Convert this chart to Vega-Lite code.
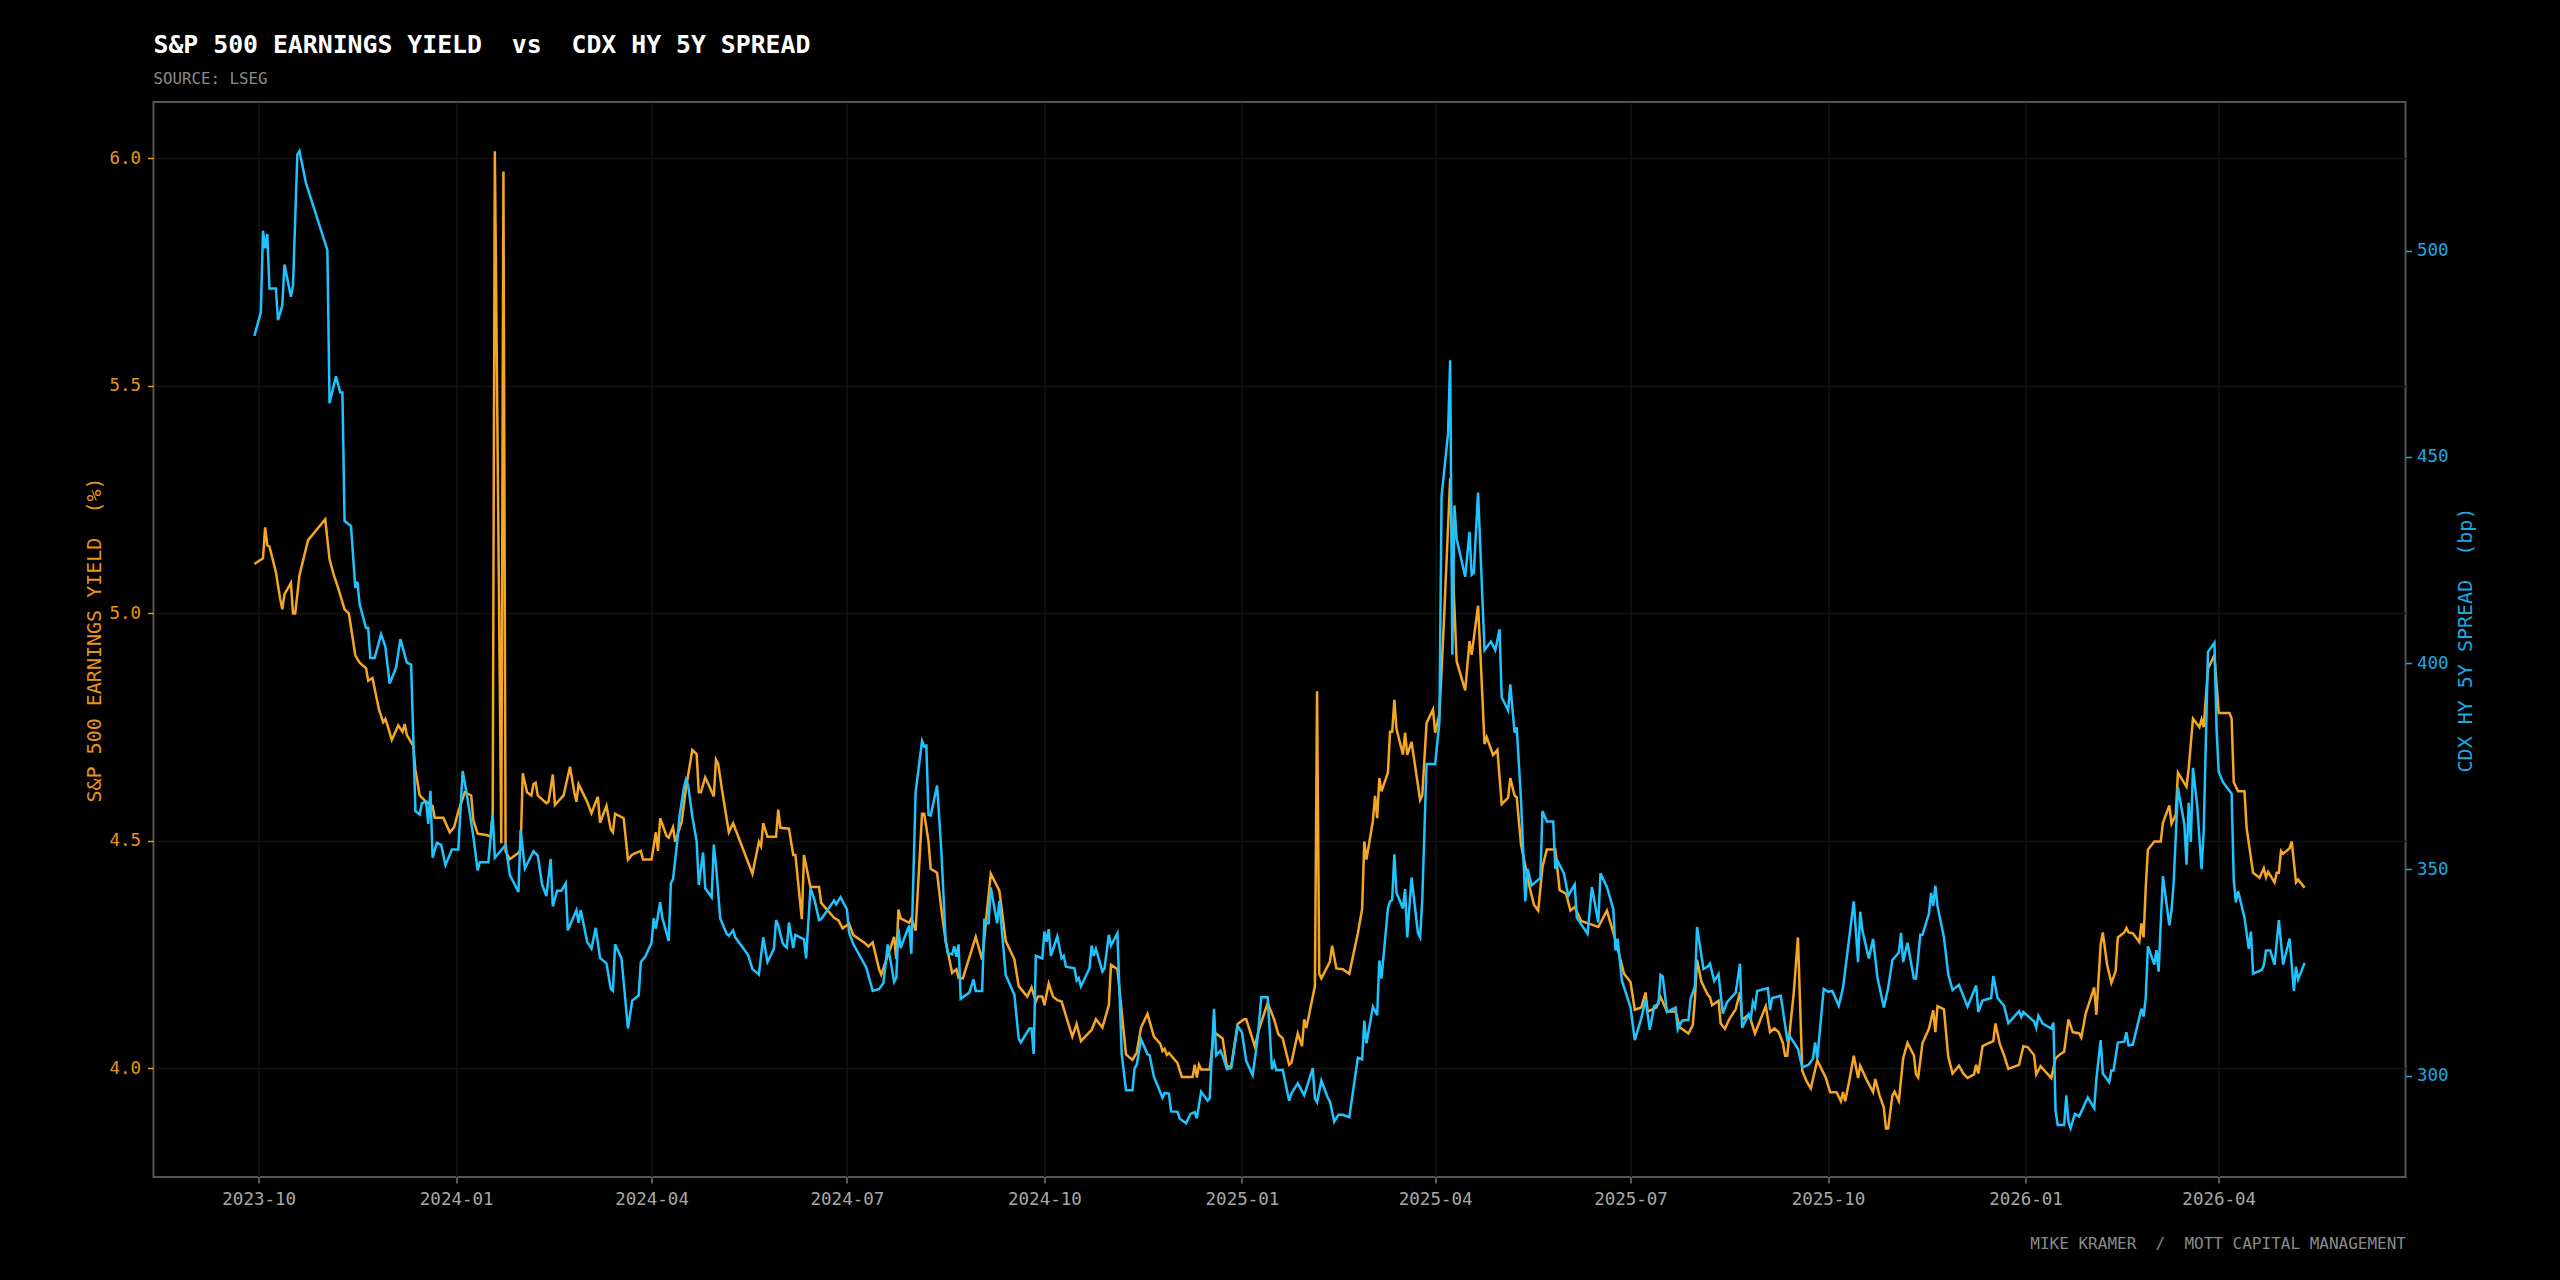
{
  "$schema": "https://vega.github.io/schema/vega-lite/v6.json",
  "autosize": "none",
  "width": 2252,
  "height": 1075,
  "padding": {"left": 153.5, "top": 102, "right": 154, "bottom": 103},
  "background": "#000000",
  "title": {
    "text": "S&P 500 EARNINGS YIELD\u00a0\u00a0vs\u00a0\u00a0CDX HY 5Y SPREAD",
    "subtitle": "SOURCE: LSEG",
    "anchor": "start",
    "frame": "group",
    "font": "DejaVu Sans Mono",
    "fontSize": 24.8,
    "fontWeight": "bold",
    "color": "#ffffff",
    "subtitleFont": "DejaVu Sans Mono",
    "subtitleFontSize": 15.8,
    "subtitleColor": "#8a8a8a",
    "subtitlePadding": 14,
    "offset": 15
  },
  "datasets": {
    "ey": [
      {"date":"2023-09-29","ey":5.109},{"date":"2023-10-03","ey":5.121},{"date":"2023-10-04","ey":5.189},{"date":"2023-10-05","ey":5.150},
      {"date":"2023-10-06","ey":5.147},{"date":"2023-10-09","ey":5.091},{"date":"2023-10-11","ey":5.032},{"date":"2023-10-12","ey":5.009},
      {"date":"2023-10-13","ey":5.042},{"date":"2023-10-16","ey":5.067},{"date":"2023-10-17","ey":5.000},{"date":"2023-10-18","ey":5.000},
      {"date":"2023-10-20","ey":5.084},{"date":"2023-10-24","ey":5.161},{"date":"2023-11-01","ey":5.207},{"date":"2023-11-03","ey":5.119},
      {"date":"2023-11-05","ey":5.084},{"date":"2023-11-07","ey":5.056},{"date":"2023-11-10","ey":5.009},{"date":"2023-11-12","ey":5.000},
      {"date":"2023-11-15","ey":4.908},{"date":"2023-11-17","ey":4.892},{"date":"2023-11-20","ey":4.880},{"date":"2023-11-21","ey":4.852},
      {"date":"2023-11-23","ey":4.858},{"date":"2023-11-26","ey":4.789},{"date":"2023-11-28","ey":4.761},{"date":"2023-11-29","ey":4.768},
      {"date":"2023-11-30","ey":4.754},{"date":"2023-12-02","ey":4.722},{"date":"2023-12-05","ey":4.754},{"date":"2023-12-07","ey":4.740},
      {"date":"2023-12-08","ey":4.757},{"date":"2023-12-09","ey":4.733},{"date":"2023-12-12","ey":4.709},{"date":"2023-12-13","ey":4.656},
      {"date":"2023-12-15","ey":4.600},{"date":"2023-12-18","ey":4.586},{"date":"2023-12-21","ey":4.577},{"date":"2023-12-22","ey":4.551},
      {"date":"2023-12-26","ey":4.551},{"date":"2023-12-29","ey":4.519},{"date":"2023-12-31","ey":4.530},{"date":"2024-01-02","ey":4.565},
      {"date":"2024-01-05","ey":4.607},{"date":"2024-01-08","ey":4.600},{"date":"2024-01-09","ey":4.545},{"date":"2024-01-11","ey":4.516},
      {"date":"2024-01-15","ey":4.513},{"date":"2024-01-17","ey":4.510},{"date":"2024-01-18","ey":4.558},{"date":"2024-01-19","ey":6.016},
      {"date":"2024-01-22","ey":4.495},{"date":"2024-01-23","ey":5.971},{"date":"2024-01-24","ey":4.477},{"date":"2024-01-26","ey":4.460},
      {"date":"2024-01-30","ey":4.474},{"date":"2024-01-31","ey":4.481},{"date":"2024-02-01","ey":4.649},{"date":"2024-02-03","ey":4.607},
      {"date":"2024-02-05","ey":4.600},{"date":"2024-02-06","ey":4.625},{"date":"2024-02-07","ey":4.628},{"date":"2024-02-08","ey":4.600},
      {"date":"2024-02-12","ey":4.583},{"date":"2024-02-13","ey":4.586},{"date":"2024-02-15","ey":4.646},{"date":"2024-02-16","ey":4.579},
      {"date":"2024-02-20","ey":4.600},{"date":"2024-02-23","ey":4.663},{"date":"2024-02-25","ey":4.607},{"date":"2024-02-26","ey":4.586},
      {"date":"2024-02-27","ey":4.625},{"date":"2024-03-02","ey":4.586},{"date":"2024-03-04","ey":4.561},{"date":"2024-03-07","ey":4.597},
      {"date":"2024-03-08","ey":4.540},{"date":"2024-03-11","ey":4.577},{"date":"2024-03-13","ey":4.525},{"date":"2024-03-14","ey":4.519},
      {"date":"2024-03-15","ey":4.560},{"date":"2024-03-19","ey":4.550},{"date":"2024-03-21","ey":4.459},{"date":"2024-03-23","ey":4.470},
      {"date":"2024-03-27","ey":4.478},{"date":"2024-03-28","ey":4.459},{"date":"2024-04-01","ey":4.459},{"date":"2024-04-03","ey":4.519},
      {"date":"2024-04-04","ey":4.478},{"date":"2024-04-05","ey":4.550},{"date":"2024-04-08","ey":4.511},{"date":"2024-04-09","ey":4.507},
      {"date":"2024-04-11","ey":4.530},{"date":"2024-04-12","ey":4.498},{"date":"2024-04-15","ey":4.542},{"date":"2024-04-17","ey":4.615},
      {"date":"2024-04-20","ey":4.700},{"date":"2024-04-22","ey":4.691},{"date":"2024-04-23","ey":4.607},{"date":"2024-04-24","ey":4.607},
      {"date":"2024-04-26","ey":4.640},{"date":"2024-04-30","ey":4.598},{"date":"2024-05-01","ey":4.679},{"date":"2024-05-02","ey":4.670},
      {"date":"2024-05-04","ey":4.607},{"date":"2024-05-07","ey":4.519},{"date":"2024-05-09","ey":4.539},{"date":"2024-05-18","ey":4.428},
      {"date":"2024-05-21","ey":4.498},{"date":"2024-05-22","ey":4.488},{"date":"2024-05-23","ey":4.539},{"date":"2024-05-25","ey":4.509},
      {"date":"2024-05-29","ey":4.509},{"date":"2024-05-30","ey":4.569},{"date":"2024-05-31","ey":4.529},{"date":"2024-06-04","ey":4.527},
      {"date":"2024-06-06","ey":4.469},{"date":"2024-06-07","ey":4.469},{"date":"2024-06-10","ey":4.328},{"date":"2024-06-11","ey":4.469},
      {"date":"2024-06-14","ey":4.399},{"date":"2024-06-18","ey":4.399},{"date":"2024-06-19","ey":4.364},{"date":"2024-06-25","ey":4.331},
      {"date":"2024-06-27","ey":4.326},{"date":"2024-06-29","ey":4.308},{"date":"2024-07-02","ey":4.318},{"date":"2024-07-04","ey":4.293},
      {"date":"2024-07-09","ey":4.277},{"date":"2024-07-11","ey":4.268},{"date":"2024-07-13","ey":4.277},{"date":"2024-07-16","ey":4.218},
      {"date":"2024-07-17","ey":4.206},{"date":"2024-07-23","ey":4.289},{"date":"2024-07-24","ey":4.241},{"date":"2024-07-25","ey":4.349},
      {"date":"2024-07-26","ey":4.330},{"date":"2024-07-30","ey":4.320},{"date":"2024-07-31","ey":4.330},{"date":"2024-08-02","ey":4.303},
      {"date":"2024-08-05","ey":4.560},{"date":"2024-08-06","ey":4.560},{"date":"2024-08-08","ey":4.499},{"date":"2024-08-09","ey":4.439},
      {"date":"2024-08-12","ey":4.430},{"date":"2024-08-14","ey":4.349},{"date":"2024-08-16","ey":4.280},{"date":"2024-08-19","ey":4.210},
      {"date":"2024-08-21","ey":4.218},{"date":"2024-08-22","ey":4.199},{"date":"2024-08-24","ey":4.198},{"date":"2024-08-30","ey":4.289},
      {"date":"2024-09-02","ey":4.239},{"date":"2024-09-04","ey":4.334},{"date":"2024-09-06","ey":4.428},{"date":"2024-09-10","ey":4.391},
      {"date":"2024-09-13","ey":4.280},{"date":"2024-09-17","ey":4.240},{"date":"2024-09-19","ey":4.181},{"date":"2024-09-23","ey":4.158},
      {"date":"2024-09-25","ey":4.178},{"date":"2024-09-27","ey":4.147},{"date":"2024-09-28","ey":4.158},{"date":"2024-09-30","ey":4.158},
      {"date":"2024-10-01","ey":4.139},{"date":"2024-10-03","ey":4.187},{"date":"2024-10-05","ey":4.158},{"date":"2024-10-07","ey":4.150},
      {"date":"2024-10-09","ey":4.147},{"date":"2024-10-11","ey":4.116},{"date":"2024-10-14","ey":4.070},{"date":"2024-10-16","ey":4.098},
      {"date":"2024-10-18","ey":4.060},{"date":"2024-10-23","ey":4.085},{"date":"2024-10-25","ey":4.108},{"date":"2024-10-28","ey":4.090},
      {"date":"2024-10-31","ey":4.139},{"date":"2024-11-01","ey":4.228},{"date":"2024-11-04","ey":4.218},{"date":"2024-11-07","ey":4.077},
      {"date":"2024-11-08","ey":4.031},{"date":"2024-11-11","ey":4.019},{"date":"2024-11-13","ey":4.035},{"date":"2024-11-15","ey":4.090},
      {"date":"2024-11-18","ey":4.120},{"date":"2024-11-21","ey":4.070},{"date":"2024-11-24","ey":4.054},{"date":"2024-11-25","ey":4.038},
      {"date":"2024-11-26","ey":4.043},{"date":"2024-11-27","ey":4.030},{"date":"2024-11-28","ey":4.034},{"date":"2024-12-02","ey":4.012},
      {"date":"2024-12-04","ey":3.981},{"date":"2024-12-09","ey":3.981},{"date":"2024-12-10","ey":4.008},{"date":"2024-12-11","ey":3.980},
      {"date":"2024-12-12","ey":4.008},{"date":"2024-12-13","ey":3.998},{"date":"2024-12-17","ey":3.998},{"date":"2024-12-19","ey":4.080},
      {"date":"2024-12-23","ey":4.066},{"date":"2024-12-25","ey":4.004},{"date":"2024-12-27","ey":4.005},{"date":"2024-12-30","ey":4.098},
      {"date":"2025-01-02","ey":4.108},{"date":"2025-01-03","ey":4.108},{"date":"2025-01-07","ey":4.049},{"date":"2025-01-09","ey":4.087},
      {"date":"2025-01-13","ey":4.144},{"date":"2025-01-16","ey":4.108},{"date":"2025-01-18","ey":4.075},{"date":"2025-01-20","ey":4.066},
      {"date":"2025-01-23","ey":4.008},{"date":"2025-01-24","ey":4.012},{"date":"2025-01-27","ey":4.077},{"date":"2025-01-29","ey":4.049},
      {"date":"2025-01-30","ey":4.108},{"date":"2025-01-31","ey":4.089},{"date":"2025-02-04","ey":4.181},{"date":"2025-02-05","ey":4.829},
      {"date":"2025-02-06","ey":4.208},{"date":"2025-02-07","ey":4.198},{"date":"2025-02-11","ey":4.235},{"date":"2025-02-12","ey":4.270},
      {"date":"2025-02-14","ey":4.220},{"date":"2025-02-17","ey":4.218},{"date":"2025-02-20","ey":4.208},{"date":"2025-02-24","ey":4.297},
      {"date":"2025-02-26","ey":4.351},{"date":"2025-02-27","ey":4.499},{"date":"2025-02-28","ey":4.459},{"date":"2025-03-03","ey":4.544},
      {"date":"2025-03-04","ey":4.599},{"date":"2025-03-05","ey":4.550},{"date":"2025-03-06","ey":4.638},{"date":"2025-03-07","ey":4.609},
      {"date":"2025-03-10","ey":4.650},{"date":"2025-03-11","ey":4.740},{"date":"2025-03-12","ey":4.740},{"date":"2025-03-13","ey":4.810},
      {"date":"2025-03-14","ey":4.746},{"date":"2025-03-17","ey":4.690},{"date":"2025-03-18","ey":4.738},{"date":"2025-03-19","ey":4.689},
      {"date":"2025-03-21","ey":4.718},{"date":"2025-03-25","ey":4.590},{"date":"2025-03-26","ey":4.600},{"date":"2025-03-28","ey":4.759},
      {"date":"2025-03-31","ey":4.789},{"date":"2025-04-01","ey":4.738},{"date":"2025-04-02","ey":4.758},{"date":"2025-04-03","ey":4.780},
      {"date":"2025-04-05","ey":4.973},{"date":"2025-04-08","ey":5.297},{"date":"2025-04-09","ey":5.130},{"date":"2025-04-10","ey":5.012},
      {"date":"2025-04-11","ey":4.895},{"date":"2025-04-15","ey":4.831},{"date":"2025-04-17","ey":4.939},{"date":"2025-04-18","ey":4.909},
      {"date":"2025-04-21","ey":5.017},{"date":"2025-04-22","ey":4.920},{"date":"2025-04-24","ey":4.713},{"date":"2025-04-25","ey":4.728},
      {"date":"2025-04-28","ey":4.689},{"date":"2025-04-30","ey":4.700},{"date":"2025-05-02","ey":4.581},{"date":"2025-05-05","ey":4.595},
      {"date":"2025-05-06","ey":4.638},{"date":"2025-05-08","ey":4.600},{"date":"2025-05-09","ey":4.596},{"date":"2025-05-11","ey":4.492},
      {"date":"2025-05-15","ey":4.399},{"date":"2025-05-17","ey":4.360},{"date":"2025-05-19","ey":4.347},{"date":"2025-05-21","ey":4.443},
      {"date":"2025-05-23","ey":4.481},{"date":"2025-05-27","ey":4.481},{"date":"2025-05-29","ey":4.392},{"date":"2025-06-01","ey":4.384},
      {"date":"2025-06-03","ey":4.347},{"date":"2025-06-05","ey":4.355},{"date":"2025-06-08","ey":4.324},{"date":"2025-06-13","ey":4.316},
      {"date":"2025-06-16","ey":4.311},{"date":"2025-06-20","ey":4.347},{"date":"2025-06-24","ey":4.282},{"date":"2025-06-28","ey":4.208},
      {"date":"2025-07-01","ey":4.190},{"date":"2025-07-03","ey":4.129},{"date":"2025-07-06","ey":4.134},{"date":"2025-07-08","ey":4.167},
      {"date":"2025-07-09","ey":4.125},{"date":"2025-07-13","ey":4.134},{"date":"2025-07-15","ey":4.157},{"date":"2025-07-18","ey":4.125},
      {"date":"2025-07-22","ey":4.125},{"date":"2025-07-24","ey":4.090},{"date":"2025-07-28","ey":4.077},{"date":"2025-07-30","ey":4.095},
      {"date":"2025-07-31","ey":4.153},{"date":"2025-08-01","ey":4.239},{"date":"2025-08-03","ey":4.191},{"date":"2025-08-06","ey":4.162},
      {"date":"2025-08-07","ey":4.157},{"date":"2025-08-08","ey":4.139},{"date":"2025-08-11","ey":4.149},{"date":"2025-08-12","ey":4.099},
      {"date":"2025-08-14","ey":4.087},{"date":"2025-08-16","ey":4.108},{"date":"2025-08-19","ey":4.130},{"date":"2025-08-21","ey":4.168},
      {"date":"2025-08-22","ey":4.107},{"date":"2025-08-25","ey":4.118},{"date":"2025-08-26","ey":4.107},{"date":"2025-08-28","ey":4.077},
      {"date":"2025-09-02","ey":4.137},{"date":"2025-09-04","ey":4.080},{"date":"2025-09-06","ey":4.088},{"date":"2025-09-08","ey":4.080},
      {"date":"2025-09-10","ey":4.056},{"date":"2025-09-11","ey":4.028},{"date":"2025-09-12","ey":4.028},{"date":"2025-09-15","ey":4.164},
      {"date":"2025-09-17","ey":4.288},{"date":"2025-09-19","ey":3.995},{"date":"2025-09-21","ey":3.972},{"date":"2025-09-23","ey":3.956},
      {"date":"2025-09-26","ey":4.018},{"date":"2025-09-30","ey":3.979},{"date":"2025-10-02","ey":3.948},{"date":"2025-10-05","ey":3.948},
      {"date":"2025-10-07","ey":3.928},{"date":"2025-10-08","ey":3.948},{"date":"2025-10-09","ey":3.928},{"date":"2025-10-11","ey":3.975},
      {"date":"2025-10-13","ey":4.028},{"date":"2025-10-15","ey":3.979},{"date":"2025-10-16","ey":4.006},{"date":"2025-10-19","ey":3.975},
      {"date":"2025-10-22","ey":3.948},{"date":"2025-10-23","ey":3.977},{"date":"2025-10-25","ey":3.941},{"date":"2025-10-27","ey":3.914},
      {"date":"2025-10-28","ey":3.868},{"date":"2025-10-29","ey":3.868},{"date":"2025-10-31","ey":3.941},{"date":"2025-11-01","ey":3.949},
      {"date":"2025-11-03","ey":3.929},{"date":"2025-11-05","ey":4.022},{"date":"2025-11-07","ey":4.056},{"date":"2025-11-10","ey":4.029},
      {"date":"2025-11-11","ey":3.987},{"date":"2025-11-12","ey":3.980},{"date":"2025-11-14","ey":4.056},{"date":"2025-11-17","ey":4.087},
      {"date":"2025-11-19","ey":4.128},{"date":"2025-11-20","ey":4.080},{"date":"2025-11-21","ey":4.137},{"date":"2025-11-24","ey":4.130},
      {"date":"2025-11-26","ey":4.026},{"date":"2025-11-28","ey":3.989},{"date":"2025-12-01","ey":4.006},{"date":"2025-12-03","ey":3.989},
      {"date":"2025-12-05","ey":3.979},{"date":"2025-12-08","ey":3.987},{"date":"2025-12-09","ey":4.008},{"date":"2025-12-10","ey":3.989},
      {"date":"2025-12-12","ey":4.049},{"date":"2025-12-15","ey":4.056},{"date":"2025-12-17","ey":4.060},{"date":"2025-12-18","ey":4.099},
      {"date":"2025-12-20","ey":4.054},{"date":"2025-12-22","ey":4.029},{"date":"2025-12-24","ey":3.999},{"date":"2025-12-29","ey":4.008},
      {"date":"2025-12-31","ey":4.049},{"date":"2026-01-02","ey":4.047},{"date":"2026-01-05","ey":4.029},{"date":"2026-01-06","ey":3.987},
      {"date":"2026-01-08","ey":4.005},{"date":"2026-01-13","ey":3.979},{"date":"2026-01-15","ey":4.022},{"date":"2026-01-17","ey":4.031},
      {"date":"2026-01-19","ey":4.037},{"date":"2026-01-21","ey":4.108},{"date":"2026-01-23","ey":4.080},{"date":"2026-01-26","ey":4.077},
      {"date":"2026-01-27","ey":4.068},{"date":"2026-01-29","ey":4.120},{"date":"2026-02-02","ey":4.178},{"date":"2026-02-03","ey":4.118},
      {"date":"2026-02-05","ey":4.272},{"date":"2026-02-06","ey":4.299},{"date":"2026-02-08","ey":4.228},{"date":"2026-02-10","ey":4.188},
      {"date":"2026-02-12","ey":4.214},{"date":"2026-02-13","ey":4.288},{"date":"2026-02-16","ey":4.299},{"date":"2026-02-17","ey":4.309},
      {"date":"2026-02-18","ey":4.299},{"date":"2026-02-20","ey":4.297},{"date":"2026-02-23","ey":4.278},{"date":"2026-02-24","ey":4.319},
      {"date":"2026-02-25","ey":4.288},{"date":"2026-02-26","ey":4.397},{"date":"2026-02-27","ey":4.481},{"date":"2026-03-02","ey":4.499},
      {"date":"2026-03-05","ey":4.499},{"date":"2026-03-06","ey":4.540},{"date":"2026-03-09","ey":4.578},{"date":"2026-03-10","ey":4.538},
      {"date":"2026-03-12","ey":4.558},{"date":"2026-03-13","ey":4.650},{"date":"2026-03-17","ey":4.619},{"date":"2026-03-18","ey":4.659},
      {"date":"2026-03-20","ey":4.769},{"date":"2026-03-23","ey":4.750},{"date":"2026-03-24","ey":4.767},{"date":"2026-03-25","ey":4.750},
      {"date":"2026-03-27","ey":4.879},{"date":"2026-03-30","ey":4.908},{"date":"2026-04-01","ey":4.781},{"date":"2026-04-06","ey":4.781},
      {"date":"2026-04-07","ey":4.769},{"date":"2026-04-08","ey":4.629},{"date":"2026-04-10","ey":4.609},{"date":"2026-04-13","ey":4.609},
      {"date":"2026-04-14","ey":4.528},{"date":"2026-04-17","ey":4.430},{"date":"2026-04-20","ey":4.419},{"date":"2026-04-22","ey":4.440},
      {"date":"2026-04-23","ey":4.420},{"date":"2026-04-24","ey":4.432},{"date":"2026-04-27","ey":4.409},{"date":"2026-04-28","ey":4.430},
      {"date":"2026-04-29","ey":4.430},{"date":"2026-04-30","ey":4.478},{"date":"2026-05-01","ey":4.472},{"date":"2026-05-04","ey":4.484},
      {"date":"2026-05-05","ey":4.499},{"date":"2026-05-07","ey":4.409},{"date":"2026-05-08","ey":4.415},{"date":"2026-05-11","ey":4.397}
    ],
    "cdx": [
      {"date":"2023-09-29","cdx":479.3},{"date":"2023-10-02","cdx":485.0},{"date":"2023-10-03","cdx":504.8},{"date":"2023-10-04","cdx":500.5},
      {"date":"2023-10-05","cdx":504.0},{"date":"2023-10-06","cdx":490.8},{"date":"2023-10-09","cdx":490.8},{"date":"2023-10-10","cdx":483.1},
      {"date":"2023-10-12","cdx":486.7},{"date":"2023-10-13","cdx":496.6},{"date":"2023-10-16","cdx":488.8},{"date":"2023-10-17","cdx":491.6},
      {"date":"2023-10-19","cdx":523.3},{"date":"2023-10-20","cdx":524.1},{"date":"2023-10-23","cdx":516.4},{"date":"2023-11-02","cdx":500.1},
      {"date":"2023-11-03","cdx":463.0},{"date":"2023-11-06","cdx":469.5},{"date":"2023-11-08","cdx":465.6},{"date":"2023-11-09","cdx":465.6},
      {"date":"2023-11-10","cdx":434.4},{"date":"2023-11-13","cdx":433.2},{"date":"2023-11-15","cdx":418.2},{"date":"2023-11-16","cdx":419.7},
      {"date":"2023-11-17","cdx":414.3},{"date":"2023-11-20","cdx":408.5},{"date":"2023-11-21","cdx":408.5},{"date":"2023-11-22","cdx":401.2},
      {"date":"2023-11-24","cdx":401.2},{"date":"2023-11-27","cdx":407.0},{"date":"2023-11-29","cdx":404.0},{"date":"2023-12-01","cdx":395.0},
      {"date":"2023-12-04","cdx":398.9},{"date":"2023-12-06","cdx":405.8},{"date":"2023-12-09","cdx":400.1},{"date":"2023-12-11","cdx":399.6},
      {"date":"2023-12-12","cdx":382.0},{"date":"2023-12-13","cdx":364.1},{"date":"2023-12-15","cdx":363.3},{"date":"2023-12-16","cdx":366.0},
      {"date":"2023-12-18","cdx":366.4},{"date":"2023-12-19","cdx":361.0},{"date":"2023-12-20","cdx":369.0},{"date":"2023-12-21","cdx":352.8},
      {"date":"2023-12-23","cdx":356.4},{"date":"2023-12-25","cdx":355.9},{"date":"2023-12-27","cdx":351.0},{"date":"2023-12-30","cdx":354.8},
      {"date":"2024-01-02","cdx":354.8},{"date":"2024-01-04","cdx":373.8},{"date":"2024-01-06","cdx":368.0},{"date":"2024-01-09","cdx":357.9},
      {"date":"2024-01-11","cdx":349.7},{"date":"2024-01-12","cdx":351.7},{"date":"2024-01-16","cdx":351.7},{"date":"2024-01-18","cdx":363.3},
      {"date":"2024-01-19","cdx":352.8},{"date":"2024-01-24","cdx":355.9},{"date":"2024-01-26","cdx":348.6},{"date":"2024-01-30","cdx":344.5},
      {"date":"2024-01-31","cdx":359.5},{"date":"2024-02-02","cdx":350.2},{"date":"2024-02-06","cdx":354.4},{"date":"2024-02-08","cdx":353.3},
      {"date":"2024-02-10","cdx":346.3},{"date":"2024-02-12","cdx":343.5},{"date":"2024-02-14","cdx":352.5},{"date":"2024-02-15","cdx":341.0},
      {"date":"2024-02-17","cdx":344.8},{"date":"2024-02-19","cdx":344.8},{"date":"2024-02-21","cdx":346.6},{"date":"2024-02-22","cdx":335.2},
      {"date":"2024-02-26","cdx":340.1},{"date":"2024-02-27","cdx":337.0},{"date":"2024-02-28","cdx":340.1},{"date":"2024-03-02","cdx":332.4},
      {"date":"2024-03-04","cdx":330.8},{"date":"2024-03-06","cdx":335.8},{"date":"2024-03-08","cdx":328.5},{"date":"2024-03-11","cdx":327.2},
      {"date":"2024-03-13","cdx":321.0},{"date":"2024-03-14","cdx":320.5},{"date":"2024-03-15","cdx":331.8},{"date":"2024-03-18","cdx":328.4},
      {"date":"2024-03-21","cdx":311.4},{"date":"2024-03-23","cdx":318.2},{"date":"2024-03-26","cdx":319.4},{"date":"2024-03-27","cdx":327.5},
      {"date":"2024-03-29","cdx":328.8},{"date":"2024-04-01","cdx":332.2},{"date":"2024-04-02","cdx":338.1},{"date":"2024-04-03","cdx":335.6},
      {"date":"2024-04-05","cdx":342.0},{"date":"2024-04-06","cdx":338.3},{"date":"2024-04-09","cdx":332.6},{"date":"2024-04-10","cdx":346.6},
      {"date":"2024-04-11","cdx":347.6},{"date":"2024-04-13","cdx":356.8},{"date":"2024-04-14","cdx":362.8},{"date":"2024-04-16","cdx":369.6},
      {"date":"2024-04-17","cdx":371.7},{"date":"2024-04-18","cdx":370.4},{"date":"2024-04-20","cdx":362.8},{"date":"2024-04-22","cdx":356.8},
      {"date":"2024-04-23","cdx":346.2},{"date":"2024-04-25","cdx":354.1},{"date":"2024-04-26","cdx":345.4},{"date":"2024-04-29","cdx":343.2},
      {"date":"2024-04-30","cdx":356.0},{"date":"2024-05-01","cdx":350.9},{"date":"2024-05-03","cdx":338.1},{"date":"2024-05-06","cdx":334.3},
      {"date":"2024-05-07","cdx":333.9},{"date":"2024-05-09","cdx":335.2},{"date":"2024-05-10","cdx":333.5},{"date":"2024-05-16","cdx":329.2},
      {"date":"2024-05-18","cdx":325.8},{"date":"2024-05-21","cdx":324.5},{"date":"2024-05-23","cdx":333.5},{"date":"2024-05-25","cdx":327.5},
      {"date":"2024-05-28","cdx":330.7},{"date":"2024-05-29","cdx":337.7},{"date":"2024-05-30","cdx":336.4},{"date":"2024-06-01","cdx":332.2},
      {"date":"2024-06-02","cdx":331.4},{"date":"2024-06-03","cdx":331.0},{"date":"2024-06-04","cdx":337.1},{"date":"2024-06-06","cdx":330.9},
      {"date":"2024-06-07","cdx":334.1},{"date":"2024-06-11","cdx":333.0},{"date":"2024-06-12","cdx":328.4},{"date":"2024-06-14","cdx":345.4},
      {"date":"2024-06-16","cdx":342.4},{"date":"2024-06-18","cdx":337.7},{"date":"2024-06-19","cdx":337.9},{"date":"2024-06-25","cdx":342.4},
      {"date":"2024-06-26","cdx":341.5},{"date":"2024-06-28","cdx":343.2},{"date":"2024-07-01","cdx":340.3},{"date":"2024-07-02","cdx":334.7},
      {"date":"2024-07-04","cdx":331.8},{"date":"2024-07-10","cdx":326.2},{"date":"2024-07-13","cdx":320.5},{"date":"2024-07-16","cdx":321.0},
      {"date":"2024-07-18","cdx":322.4},{"date":"2024-07-20","cdx":331.8},{"date":"2024-07-23","cdx":322.7},{"date":"2024-07-24","cdx":323.7},
      {"date":"2024-07-25","cdx":335.6},{"date":"2024-07-26","cdx":330.9},{"date":"2024-07-30","cdx":336.4},{"date":"2024-07-31","cdx":329.5},
      {"date":"2024-08-02","cdx":368.7},{"date":"2024-08-05","cdx":381.1},{"date":"2024-08-06","cdx":379.8},{"date":"2024-08-07","cdx":380.0},
      {"date":"2024-08-08","cdx":363.2},{"date":"2024-08-09","cdx":363.0},{"date":"2024-08-12","cdx":370.3},{"date":"2024-08-14","cdx":354.3},
      {"date":"2024-08-16","cdx":332.6},{"date":"2024-08-17","cdx":329.6},{"date":"2024-08-19","cdx":329.4},{"date":"2024-08-20","cdx":331.3},
      {"date":"2024-08-21","cdx":328.8},{"date":"2024-08-22","cdx":331.8},{"date":"2024-08-23","cdx":318.6},{"date":"2024-08-27","cdx":320.1},
      {"date":"2024-08-29","cdx":323.3},{"date":"2024-08-30","cdx":320.5},{"date":"2024-09-02","cdx":320.5},{"date":"2024-09-03","cdx":338.0},
      {"date":"2024-09-04","cdx":336.9},{"date":"2024-09-05","cdx":336.9},{"date":"2024-09-06","cdx":345.6},{"date":"2024-09-09","cdx":336.9},
      {"date":"2024-09-10","cdx":342.3},{"date":"2024-09-13","cdx":324.3},{"date":"2024-09-17","cdx":319.6},{"date":"2024-09-19","cdx":309.0},
      {"date":"2024-09-20","cdx":308.0},{"date":"2024-09-24","cdx":311.4},{"date":"2024-09-25","cdx":311.4},{"date":"2024-09-26","cdx":305.2},
      {"date":"2024-09-27","cdx":329.0},{"date":"2024-09-30","cdx":328.4},{"date":"2024-10-01","cdx":334.9},{"date":"2024-10-02","cdx":332.4},
      {"date":"2024-10-03","cdx":335.5},{"date":"2024-10-04","cdx":329.0},{"date":"2024-10-07","cdx":333.7},{"date":"2024-10-09","cdx":328.4},
      {"date":"2024-10-10","cdx":329.0},{"date":"2024-10-11","cdx":326.4},{"date":"2024-10-15","cdx":326.0},{"date":"2024-10-16","cdx":323.0},
      {"date":"2024-10-17","cdx":323.6},{"date":"2024-10-18","cdx":321.6},{"date":"2024-10-22","cdx":326.0},{"date":"2024-10-23","cdx":331.5},
      {"date":"2024-10-24","cdx":329.0},{"date":"2024-10-25","cdx":330.7},{"date":"2024-10-28","cdx":325.2},{"date":"2024-10-29","cdx":326.0},
      {"date":"2024-10-31","cdx":334.1},{"date":"2024-11-01","cdx":331.5},{"date":"2024-11-04","cdx":334.5},{"date":"2024-11-06","cdx":305.2},
      {"date":"2024-11-08","cdx":296.4},{"date":"2024-11-11","cdx":296.4},{"date":"2024-11-12","cdx":301.8},{"date":"2024-11-13","cdx":302.6},
      {"date":"2024-11-15","cdx":308.8},{"date":"2024-11-18","cdx":305.2},{"date":"2024-11-19","cdx":304.9},{"date":"2024-11-21","cdx":299.7},
      {"date":"2024-11-25","cdx":294.6},{"date":"2024-11-26","cdx":295.8},{"date":"2024-11-28","cdx":295.6},{"date":"2024-11-29","cdx":291.3},
      {"date":"2024-12-02","cdx":291.2},{"date":"2024-12-03","cdx":289.6},{"date":"2024-12-06","cdx":288.4},{"date":"2024-12-08","cdx":290.7},
      {"date":"2024-12-10","cdx":291.1},{"date":"2024-12-11","cdx":289.6},{"date":"2024-12-13","cdx":296.1},{"date":"2024-12-16","cdx":293.9},
      {"date":"2024-12-17","cdx":294.5},{"date":"2024-12-19","cdx":316.2},{"date":"2024-12-20","cdx":304.9},{"date":"2024-12-22","cdx":306.0},
      {"date":"2024-12-23","cdx":304.8},{"date":"2024-12-25","cdx":301.5},{"date":"2024-12-27","cdx":301.8},{"date":"2024-12-30","cdx":312.0},
      {"date":"2025-01-01","cdx":310.5},{"date":"2025-01-03","cdx":303.5},{"date":"2025-01-06","cdx":300.1},{"date":"2025-01-08","cdx":307.7},
      {"date":"2025-01-09","cdx":312.8},{"date":"2025-01-10","cdx":319.0},{"date":"2025-01-13","cdx":319.0},{"date":"2025-01-15","cdx":301.5},
      {"date":"2025-01-16","cdx":303.2},{"date":"2025-01-17","cdx":301.3},{"date":"2025-01-20","cdx":301.4},{"date":"2025-01-23","cdx":293.9},
      {"date":"2025-01-24","cdx":295.6},{"date":"2025-01-27","cdx":298.1},{"date":"2025-01-30","cdx":295.2},{"date":"2025-02-03","cdx":301.8},
      {"date":"2025-02-04","cdx":294.4},{"date":"2025-02-05","cdx":293.5},{"date":"2025-02-07","cdx":298.8},{"date":"2025-02-10","cdx":294.6},
      {"date":"2025-02-11","cdx":293.7},{"date":"2025-02-13","cdx":288.8},{"date":"2025-02-15","cdx":290.5},{"date":"2025-02-17","cdx":290.5},
      {"date":"2025-02-20","cdx":289.9},{"date":"2025-02-24","cdx":304.3},{"date":"2025-02-26","cdx":303.9},{"date":"2025-02-27","cdx":313.3},
      {"date":"2025-02-28","cdx":307.8},{"date":"2025-03-03","cdx":316.7},{"date":"2025-03-05","cdx":314.6},{"date":"2025-03-06","cdx":327.9},
      {"date":"2025-03-07","cdx":323.5},{"date":"2025-03-10","cdx":340.5},{"date":"2025-03-11","cdx":342.2},{"date":"2025-03-12","cdx":342.6},
      {"date":"2025-03-13","cdx":353.6},{"date":"2025-03-14","cdx":344.3},{"date":"2025-03-17","cdx":340.5},{"date":"2025-03-18","cdx":345.2},
      {"date":"2025-03-19","cdx":333.5},{"date":"2025-03-21","cdx":348.0},{"date":"2025-03-24","cdx":334.5},{"date":"2025-03-25","cdx":333.5},
      {"date":"2025-03-26","cdx":342.5},{"date":"2025-03-28","cdx":375.5},{"date":"2025-04-01","cdx":375.5},{"date":"2025-04-03","cdx":385.8},
      {"date":"2025-04-04","cdx":440.4},{"date":"2025-04-07","cdx":455.6},{"date":"2025-04-08","cdx":473.4},{"date":"2025-04-09","cdx":402.0},
      {"date":"2025-04-10","cdx":438.2},{"date":"2025-04-11","cdx":430.1},{"date":"2025-04-15","cdx":420.9},{"date":"2025-04-17","cdx":431.8},
      {"date":"2025-04-18","cdx":421.4},{"date":"2025-04-19","cdx":421.9},{"date":"2025-04-21","cdx":441.3},{"date":"2025-04-24","cdx":403.1},
      {"date":"2025-04-27","cdx":405.2},{"date":"2025-04-29","cdx":403.1},{"date":"2025-05-01","cdx":408.2},{"date":"2025-05-02","cdx":391.7},
      {"date":"2025-05-05","cdx":388.5},{"date":"2025-05-06","cdx":394.8},{"date":"2025-05-08","cdx":383.1},{"date":"2025-05-09","cdx":384.4},
      {"date":"2025-05-11","cdx":366.8},{"date":"2025-05-13","cdx":342.2},{"date":"2025-05-14","cdx":350.1},{"date":"2025-05-16","cdx":346.1},
      {"date":"2025-05-20","cdx":347.9},{"date":"2025-05-21","cdx":364.1},{"date":"2025-05-23","cdx":361.6},{"date":"2025-05-26","cdx":361.6},
      {"date":"2025-05-27","cdx":350.1},{"date":"2025-05-28","cdx":352.0},{"date":"2025-05-31","cdx":349.0},{"date":"2025-06-02","cdx":343.6},
      {"date":"2025-06-05","cdx":346.3},{"date":"2025-06-06","cdx":338.2},{"date":"2025-06-11","cdx":334.4},{"date":"2025-06-13","cdx":345.7},
      {"date":"2025-06-16","cdx":337.1},{"date":"2025-06-17","cdx":349.0},{"date":"2025-06-20","cdx":345.7},{"date":"2025-06-23","cdx":340.3},
      {"date":"2025-06-24","cdx":330.3},{"date":"2025-06-25","cdx":333.1},{"date":"2025-06-27","cdx":323.0},{"date":"2025-07-01","cdx":316.5},
      {"date":"2025-07-03","cdx":308.6},{"date":"2025-07-06","cdx":313.8},{"date":"2025-07-08","cdx":318.4},{"date":"2025-07-10","cdx":311.1},
      {"date":"2025-07-12","cdx":316.8},{"date":"2025-07-14","cdx":317.3},{"date":"2025-07-15","cdx":324.4},{"date":"2025-07-16","cdx":324.0},
      {"date":"2025-07-18","cdx":315.4},{"date":"2025-07-22","cdx":316.5},{"date":"2025-07-23","cdx":311.1},{"date":"2025-07-25","cdx":313.3},
      {"date":"2025-07-28","cdx":313.5},{"date":"2025-07-29","cdx":318.6},{"date":"2025-07-31","cdx":321.6},{"date":"2025-08-01","cdx":336.0},
      {"date":"2025-08-04","cdx":325.8},{"date":"2025-08-06","cdx":326.4},{"date":"2025-08-07","cdx":327.1},{"date":"2025-08-09","cdx":322.9},
      {"date":"2025-08-11","cdx":324.6},{"date":"2025-08-13","cdx":315.0},{"date":"2025-08-15","cdx":317.8},{"date":"2025-08-19","cdx":320.1},
      {"date":"2025-08-21","cdx":327.1},{"date":"2025-08-22","cdx":311.6},{"date":"2025-08-25","cdx":314.8},{"date":"2025-08-26","cdx":313.7},
      {"date":"2025-08-27","cdx":317.8},{"date":"2025-08-28","cdx":316.5},{"date":"2025-08-29","cdx":320.5},{"date":"2025-09-03","cdx":321.2},
      {"date":"2025-09-04","cdx":315.9},{"date":"2025-09-05","cdx":318.8},{"date":"2025-09-09","cdx":319.3},{"date":"2025-09-12","cdx":308.8},
      {"date":"2025-09-13","cdx":309.7},{"date":"2025-09-17","cdx":306.5},{"date":"2025-09-19","cdx":302.0},{"date":"2025-09-22","cdx":302.6},
      {"date":"2025-09-24","cdx":304.1},{"date":"2025-09-25","cdx":308.0},{"date":"2025-09-26","cdx":304.1},{"date":"2025-09-29","cdx":321.0},
      {"date":"2025-10-01","cdx":320.3},{"date":"2025-10-03","cdx":320.5},{"date":"2025-10-06","cdx":316.9},{"date":"2025-10-08","cdx":321.3},
      {"date":"2025-10-13","cdx":342.2},{"date":"2025-10-15","cdx":327.5},{"date":"2025-10-16","cdx":339.7},{"date":"2025-10-17","cdx":335.2},
      {"date":"2025-10-20","cdx":328.4},{"date":"2025-10-22","cdx":333.1},{"date":"2025-10-24","cdx":323.9},{"date":"2025-10-27","cdx":316.5},
      {"date":"2025-10-29","cdx":321.2},{"date":"2025-10-31","cdx":328.0},{"date":"2025-11-03","cdx":329.8},{"date":"2025-11-04","cdx":334.6},
      {"date":"2025-11-05","cdx":327.5},{"date":"2025-11-07","cdx":332.2},{"date":"2025-11-10","cdx":323.5},{"date":"2025-11-11","cdx":323.5},
      {"date":"2025-11-13","cdx":334.1},{"date":"2025-11-14","cdx":334.1},{"date":"2025-11-17","cdx":339.2},{"date":"2025-11-18","cdx":344.3},
      {"date":"2025-11-19","cdx":341.1},{"date":"2025-11-20","cdx":346.0},{"date":"2025-11-21","cdx":341.1},{"date":"2025-11-24","cdx":333.5},
      {"date":"2025-11-26","cdx":324.6},{"date":"2025-11-28","cdx":320.7},{"date":"2025-12-01","cdx":322.0},{"date":"2025-12-05","cdx":316.7},
      {"date":"2025-12-09","cdx":321.8},{"date":"2025-12-10","cdx":315.4},{"date":"2025-12-12","cdx":318.2},{"date":"2025-12-16","cdx":318.8},
      {"date":"2025-12-17","cdx":324.1},{"date":"2025-12-19","cdx":318.8},{"date":"2025-12-22","cdx":316.9},{"date":"2025-12-24","cdx":312.7},
      {"date":"2025-12-29","cdx":315.6},{"date":"2025-12-30","cdx":314.2},{"date":"2025-12-31","cdx":315.4},{"date":"2026-01-05","cdx":313.1},
      {"date":"2026-01-06","cdx":311.6},{"date":"2026-01-07","cdx":314.5},{"date":"2026-01-09","cdx":312.6},{"date":"2026-01-13","cdx":311.4},
      {"date":"2026-01-14","cdx":312.8},{"date":"2026-01-15","cdx":291.4},{"date":"2026-01-16","cdx":288.0},{"date":"2026-01-19","cdx":288.0},
      {"date":"2026-01-20","cdx":295.2},{"date":"2026-01-21","cdx":288.8},{"date":"2026-01-22","cdx":287.2},{"date":"2026-01-24","cdx":290.7},
      {"date":"2026-01-26","cdx":290.1},{"date":"2026-01-30","cdx":294.7},{"date":"2026-02-02","cdx":292.1},{"date":"2026-02-03","cdx":299.1},
      {"date":"2026-02-05","cdx":308.6},{"date":"2026-02-06","cdx":300.5},{"date":"2026-02-09","cdx":298.4},{"date":"2026-02-10","cdx":301.2},
      {"date":"2026-02-11","cdx":301.2},{"date":"2026-02-13","cdx":308.0},{"date":"2026-02-16","cdx":308.2},{"date":"2026-02-17","cdx":310.5},
      {"date":"2026-02-18","cdx":307.3},{"date":"2026-02-20","cdx":307.5},{"date":"2026-02-24","cdx":316.2},{"date":"2026-02-25","cdx":314.3},
      {"date":"2026-02-26","cdx":318.8},{"date":"2026-02-27","cdx":331.3},{"date":"2026-03-02","cdx":326.9},{"date":"2026-03-03","cdx":330.4},
      {"date":"2026-03-04","cdx":325.2},{"date":"2026-03-06","cdx":348.3},{"date":"2026-03-09","cdx":336.4},{"date":"2026-03-10","cdx":340.0},
      {"date":"2026-03-11","cdx":346.6},{"date":"2026-03-13","cdx":369.8},{"date":"2026-03-16","cdx":360.8},{"date":"2026-03-17","cdx":351.1},
      {"date":"2026-03-18","cdx":366.1},{"date":"2026-03-19","cdx":356.6},{"date":"2026-03-20","cdx":374.6},{"date":"2026-03-22","cdx":365.3},
      {"date":"2026-03-24","cdx":350.0},{"date":"2026-03-25","cdx":359.2},{"date":"2026-03-27","cdx":402.7},{"date":"2026-03-30","cdx":404.9},
      {"date":"2026-03-31","cdx":383.8},{"date":"2026-04-01","cdx":373.6},{"date":"2026-04-03","cdx":371.1},{"date":"2026-04-07","cdx":368.3},
      {"date":"2026-04-08","cdx":347.3},{"date":"2026-04-09","cdx":342.0},{"date":"2026-04-10","cdx":344.7},{"date":"2026-04-13","cdx":338.3},
      {"date":"2026-04-15","cdx":330.7},{"date":"2026-04-16","cdx":334.9},{"date":"2026-04-17","cdx":324.7},{"date":"2026-04-21","cdx":325.6},
      {"date":"2026-04-22","cdx":326.7},{"date":"2026-04-23","cdx":330.3},{"date":"2026-04-25","cdx":330.3},{"date":"2026-04-27","cdx":326.9},
      {"date":"2026-04-29","cdx":337.7},{"date":"2026-05-01","cdx":326.9},{"date":"2026-05-04","cdx":333.2},{"date":"2026-05-06","cdx":320.5},
      {"date":"2026-05-07","cdx":326.4},{"date":"2026-05-08","cdx":323.3},{"date":"2026-05-11","cdx":327.3}
    ]
  },
  "encoding": {
    "x": {
      "field": "date",
      "type": "temporal",
      "scale": {
        "type": "utc",
        "domain": [
          {"year": 2023, "month": 8, "date": 13, "utc": true},
          {"year": 2026, "month": 6, "date": 27, "utc": true}
        ]
      },
      "axis": {
        "values": [
          {"year": 2023, "month": 10, "date": 1, "utc": true},
          {"year": 2024, "month": 1, "date": 1, "utc": true},
          {"year": 2024, "month": 4, "date": 1, "utc": true},
          {"year": 2024, "month": 7, "date": 1, "utc": true},
          {"year": 2024, "month": 10, "date": 1, "utc": true},
          {"year": 2025, "month": 1, "date": 1, "utc": true},
          {"year": 2025, "month": 4, "date": 1, "utc": true},
          {"year": 2025, "month": 7, "date": 1, "utc": true},
          {"year": 2025, "month": 10, "date": 1, "utc": true},
          {"year": 2026, "month": 1, "date": 1, "utc": true},
          {"year": 2026, "month": 4, "date": 1, "utc": true}
        ],
        "format": "%Y-%m",
        "labelFont": "DejaVu Sans Mono",
        "labelFontSize": 17.5,
        "labelColor": "#a8a8a8",
        "labelPadding": 7,
        "labelAngle": 0,
        "tickColor": "#777777",
        "tickSize": 6,
        "tickWidth": 1.5,
        "domain": false,
        "grid": true,
        "gridColor": "#121212",
        "gridWidth": 1.5,
        "title": "MIKE KRAMER\u00a0\u00a0/\u00a0\u00a0MOTT CAPITAL MANAGEMENT",
        "titleFont": "DejaVu Sans Mono",
        "titleFontSize": 16,
        "titleFontWeight": "normal",
        "titleColor": "#8a8a8a",
        "titleAnchor": "end",
        "titleAlign": "right",
        "titleBaseline": "top",
        "titlePadding": 28
      }
    }
  },
  "layer": [
    {
      "data": {"name": "ey"},
      "mark": {"type": "line", "color": "#f5a623", "strokeWidth": 2.5, "clip": true},
      "encoding": {
        "y": {
          "field": "ey",
          "type": "quantitative",
          "scale": {"domain": [3.7615, 6.124], "nice": false, "zero": false},
          "axis": {
            "orient": "left",
            "values": [4.0, 4.5, 5.0, 5.5, 6.0],
            "format": ".1f",
            "labelFont": "DejaVu Sans Mono",
            "labelFontSize": 17.5,
            "labelColor": "#e8941a",
            "labelPadding": 7,
            "tickColor": "#e8941a",
            "tickSize": 6,
            "tickWidth": 1.5,
            "domain": false,
            "grid": true,
            "gridColor": "#121212",
            "gridWidth": 1.5,
            "title": "S&P 500 EARNINGS YIELD\u00a0\u00a0(%)",
            "titleFont": "DejaVu Sans Mono",
            "titleFontSize": 20,
            "titleFontWeight": "normal",
            "titleColor": "#e8941a",
            "titlePadding": 4
          }
        }
      }
    },
    {
      "data": {"name": "cdx"},
      "mark": {"type": "line", "color": "#1ec3ff", "strokeWidth": 2.5, "clip": true},
      "encoding": {
        "y": {
          "field": "cdx",
          "type": "quantitative",
          "scale": {"domain": [275.4, 536.0], "nice": false, "zero": false},
          "axis": {
            "orient": "right",
            "values": [300, 350, 400, 450, 500],
            "format": "d",
            "labelFont": "DejaVu Sans Mono",
            "labelFontSize": 17.5,
            "labelColor": "#1ca8e0",
            "labelPadding": 5,
            "tickColor": "#1ca8e0",
            "tickSize": 6,
            "tickWidth": 1.5,
            "domain": false,
            "grid": false,
            "title": "CDX HY 5Y SPREAD\u00a0\u00a0(bp)",
            "titleFont": "DejaVu Sans Mono",
            "titleFontSize": 20,
            "titleFontWeight": "normal",
            "titleColor": "#1ca8e0",
            "titleAngle": 270,
            "titleBaseline": "top",
            "titlePadding": 7
          }
        }
      }
    }
  ],
  "resolve": {"scale": {"y": "independent"}},
  "config": {
    "view": {"stroke": "#555555", "strokeWidth": 2}
  }
}
